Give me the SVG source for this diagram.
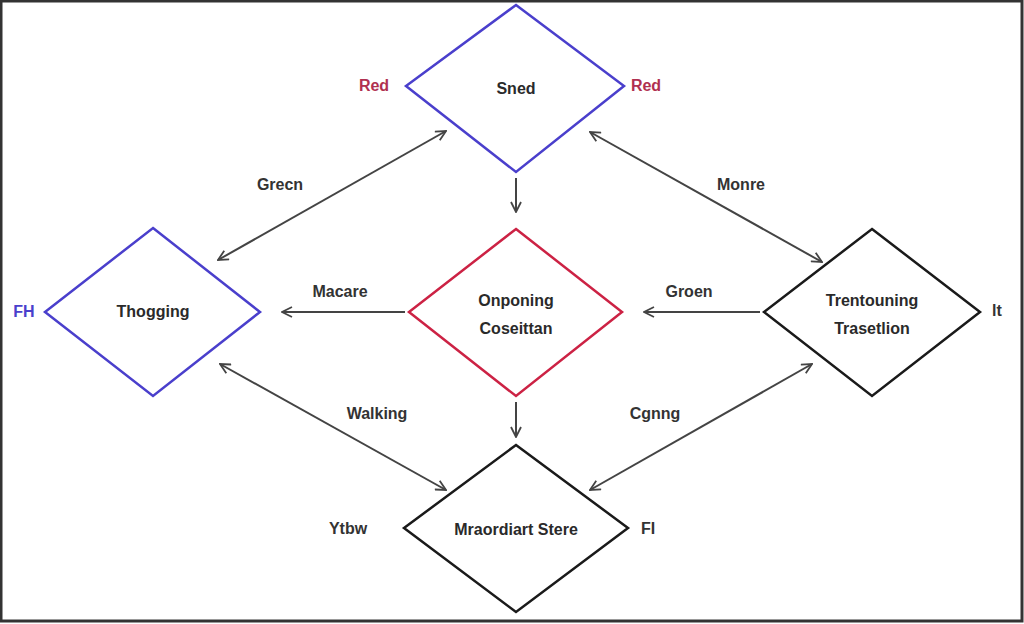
<svg xmlns="http://www.w3.org/2000/svg" width="1024" height="624" viewBox="0 0 1024 624">
<style>
.t{font-family:"Liberation Sans",Arial,sans-serif;font-size:16px;font-weight:bold;fill:#2a2a2a;text-anchor:middle;dominant-baseline:central}
.lbl{font-family:"Liberation Sans",Arial,sans-serif;font-size:16px;font-weight:bold;fill:#333;text-anchor:middle;dominant-baseline:central}
.d{fill:#fff;stroke-width:2.5;stroke-linejoin:miter}
.blue{stroke:#4a3fcc}
.red{stroke:#cc2244}
.blk{stroke:#1a1a1a}
.c{stroke:#444;stroke-width:2;fill:none}
</style>
<defs>
<marker id="ah" viewBox="0 0 12 12" refX="11" refY="6" markerWidth="12" markerHeight="12" markerUnits="userSpaceOnUse" orient="auto-start-reverse">
<path d="M1,1 L11,6 L1,11" fill="none" stroke="#444" stroke-width="1.8"/>
</marker>
</defs>
<rect x="1" y="1" width="1021" height="620" fill="#fff" stroke="#333" stroke-width="3"/>
<g id="connectors">
<line class="c" x1="516" y1="178" x2="516" y2="212" marker-end="url(#ah)"/>
<line class="c" x1="516" y1="402" x2="516" y2="437" marker-end="url(#ah)"/>
<line class="c" x1="218" y1="260" x2="446" y2="131" marker-start="url(#ah)" marker-end="url(#ah)"/>
<line class="c" x1="590" y1="132" x2="822" y2="262" marker-start="url(#ah)" marker-end="url(#ah)"/>
<line class="c" x1="405" y1="312" x2="282" y2="312" marker-end="url(#ah)"/>
<line class="c" x1="760" y1="312" x2="644" y2="312" marker-end="url(#ah)"/>
<line class="c" x1="220" y1="364" x2="446" y2="490" marker-start="url(#ah)" marker-end="url(#ah)"/>
<line class="c" x1="812" y1="364" x2="590" y2="490" marker-start="url(#ah)" marker-end="url(#ah)"/>
<text class="lbl" x="280" y="184">Grecn</text>
<text class="lbl" x="741" y="184">Monre</text>
<text class="lbl" x="340" y="291">Macare</text>
<text class="lbl" x="689" y="291">Groen</text>
<text class="lbl" x="377" y="413">Walking</text>
<text class="lbl" x="655" y="413">Cgnng</text>
</g>
<g id="n-top">
<polygon class="d blue" points="516,5 624,86 516,172 406,86"/>
<text class="t" x="516" y="88">Sned</text>
<text class="lbl" x="374" y="85" style="fill:#b03050">Red</text>
<text class="lbl" x="646" y="85" style="fill:#b03050">Red</text>
</g>
<g id="n-left">
<polygon class="d blue" points="153,228 260,312 153,396 45,312"/>
<text class="t" x="153" y="311">Thogging</text>
<text class="lbl" x="24" y="311" style="fill:#4a3fcc">FH</text>
</g>
<g id="n-center">
<polygon class="d red" points="516,229 622,312 516,396 409,312"/>
<text class="t" x="516" y="300">Onponing</text>
<text class="t" x="516" y="328">Coseittan</text>
</g>
<g id="n-right">
<polygon class="d blk" points="872,229 980,312 872,396 764,312"/>
<text class="t" x="872" y="300">Trentouning</text>
<text class="t" x="872" y="328">Trasetlion</text>
<text class="lbl" x="997" y="310">lt</text>
</g>
<g id="n-bottom">
<polygon class="d blk" points="516,445 628,528 516,612 404,528"/>
<text class="t" x="516" y="529">Mraordiart Stere</text>
<text class="lbl" x="348" y="528">Ytbw</text>
<text class="lbl" x="648" y="528">FI</text>
</g>
</svg>
